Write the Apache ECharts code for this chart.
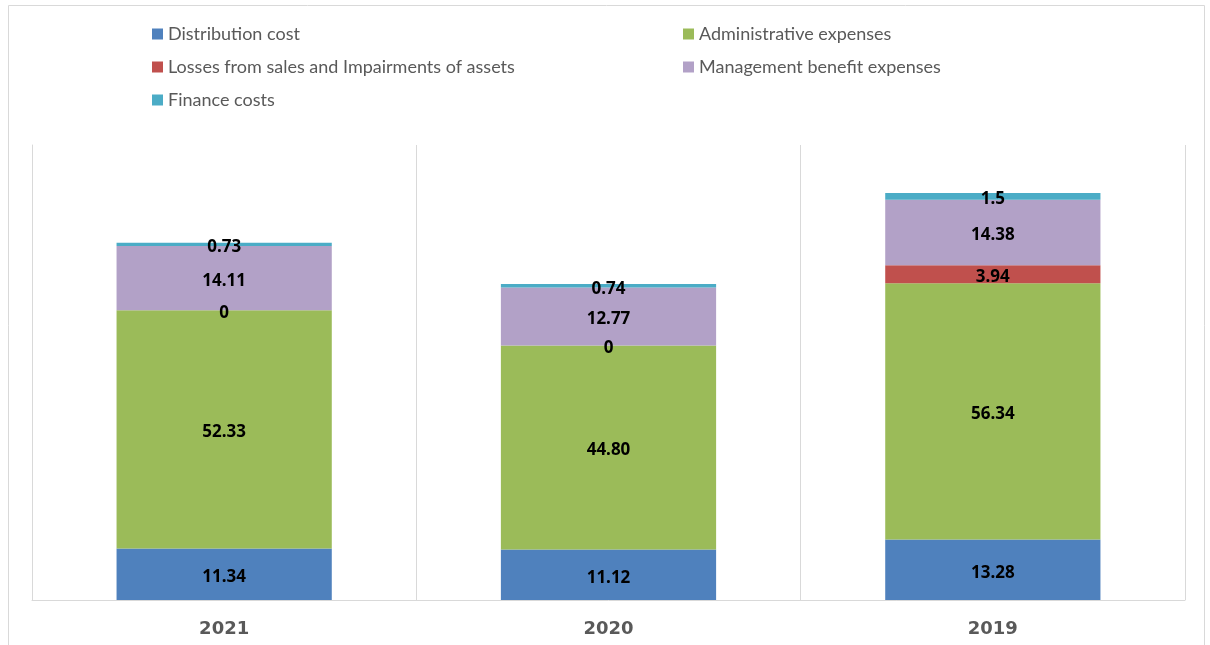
<!DOCTYPE html>
<html><head><meta charset="utf-8">
<script src="https://cdn.jsdelivr.net/npm/echarts@6/dist/echarts.min.js"></script>
<style>html,body{margin:0;padding:0;background:#fff}#c{width:1210px;height:645px}</style>
</head><body><div id="c"></div>
<script>
const categories = ['2021', '2020', '2019'];
const seriesNames = ['Distribution cost', 'Administrative expenses', 'Losses from sales and Impairments of assets', 'Management benefit expenses', 'Finance costs'];
const distribution = [11.34, 11.12, 13.28];
const administrative = [52.33, 44.80, 56.34];
const losses = [0, 0, 3.94];
const management = [14.11, 12.77, 14.38];
const finance = [0.73, 0.74, 1.5];
const distributionLabels = ['11.34', '11.12', '13.28'];
const administrativeLabels = ['52.33', '44.80', '56.34'];
const lossesLabels = ['0', '0', '3.94'];
const managementLabels = ['14.11', '12.77', '14.38'];
const financeLabels = ['0.73', '0.74', '1.5'];
const colors = ['#4f81bd', '#9bbb59', '#c0504d', '#b2a1c7', '#4bacc6'];

const values = [distribution, administrative, losses, management, finance];
const labels = [distributionLabels, administrativeLabels, lossesLabels, managementLabels, financeLabels];

const chart = echarts.init(document.getElementById('c'));
const legendText = {color: '#595959', fontSize: 18, fontFamily: 'Lato'};
chart.setOption({
  animation: false,
  graphic: [{type: 'rect', shape: {x: 8.5, y: 5.5, width: 1196, height: 660}, style: {fill: 'none', stroke: '#d9d9d9', lineWidth: 1}}],
  legend: [
    {data: [seriesNames[0], seriesNames[2], seriesNames[4]], orient: 'vertical', left: 147, top: 20, itemWidth: 11, itemHeight: 11, itemGap: 15, textStyle: legendText, icon: 'rect'},
    {data: [seriesNames[1], seriesNames[3]], orient: 'vertical', left: 678, top: 20, itemWidth: 11, itemHeight: 11, itemGap: 15, textStyle: legendText, icon: 'rect'}
  ],
  grid: {left: 32, right: 25, top: 145, bottom: 45},
  xAxis: {
    type: 'category', data: categories,
    axisLine: {lineStyle: {color: '#d9d9d9'}},
    axisTick: {show: false},
    splitLine: {show: true, lineStyle: {color: '#d9d9d9'}},
    axisLabel: {color: '#595959', fontSize: 18, fontWeight: 'bold', fontFamily: 'DejaVu Sans', margin: 20}
  },
  yAxis: {
    type: 'value', min: 0, max: 100,
    axisLine: {show: true, lineStyle: {color: '#d9d9d9'}},
    axisLabel: {show: false}, axisTick: {show: false}, splitLine: {show: false}
  },
  series: seriesNames.map((name, i) => ({
    name, type: 'bar', stack: 'total', barWidth: '56%',
    itemStyle: {color: colors[i]},
    data: values[i],
    label: {show: true, position: 'inside', offset: [0, 3], color: '#000', fontWeight: 'bold', fontSize: 17, fontFamily: 'Noto Sans',
      formatter: p => labels[i][p.dataIndex]}
  }))
});
</script></body></html>
